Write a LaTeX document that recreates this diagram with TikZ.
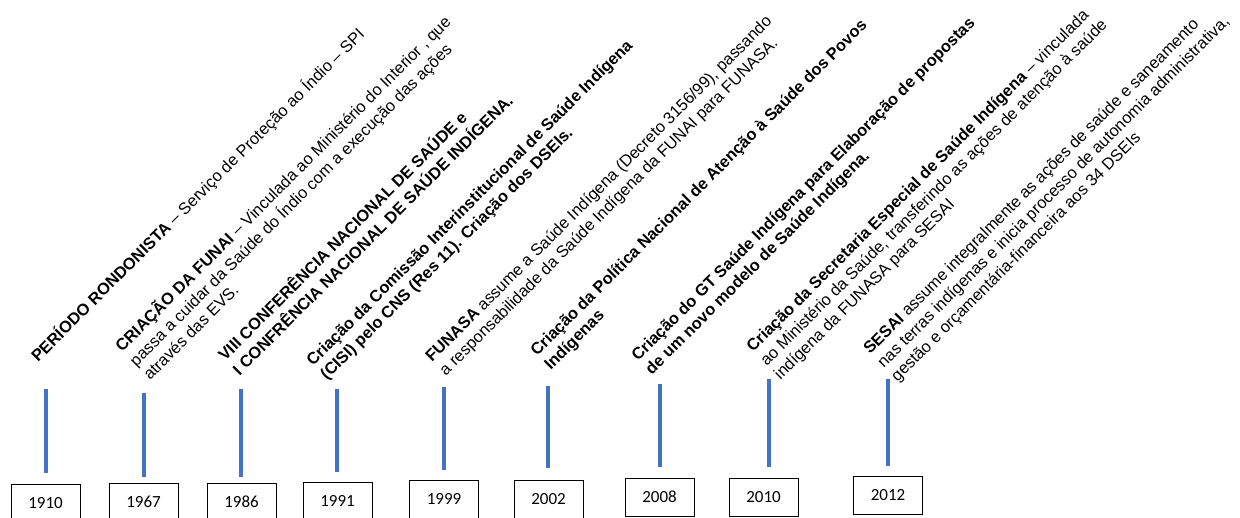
\documentclass[tikz,border=0pt]{standalone}
\usepackage{fontspec}
\setmainfont{Liberation Sans}
\newfontfamily\yearfont{Carlito}
\definecolor{tickblue}{HTML}{4472C4}
\begin{document}
\begin{tikzpicture}[x=1pt,y=-1pt,
  evt/.style={rotate=45, anchor=base west, inner sep=0pt, font=\fontsize{16.4}{19.5}\selectfont},
  yearbox/.style={draw=black, line width=1pt, minimum width=69pt, minimum height=38pt, inner sep=0pt, font=\yearfont\fontsize{17}{20}\selectfont},
  tick/.style={draw=tickblue, line width=4pt}]
\useasboundingbox (0,0) rectangle (1240,518);

% event texts
\node[evt] (e1910) at (38,363) {\begin{tabular}[t]{@{}l@{}}\textbf{PERÍODO RONDONISTA} – Serviço de Proteção ao Índio – SPI\end{tabular}};
\node[evt] (e1967) at (122,353) {\begin{tabular}[t]{@{}l@{}}\textbf{CRIAÇÃO DA FUNAI} – Vinculada ao Ministério do Interior , que\\ passa a cuidar da Saúde do Índio com a execução das ações\\ através das EVS.\end{tabular}};
\node[evt] (e1986) at (225,362) {\begin{tabular}[t]{@{}l@{}}\textbf{VIII CONFERÊNCIA NACIONAL DE SAÚDE e}\\ \textbf{I CONFRÊNCIA NACIONAL DE SAÚDE INDÍGENA.}\end{tabular}};
\node[evt] (e1991) at (313,367) {\begin{tabular}[t]{@{}l@{}}\textbf{Criação da Comissão Interinstitucional de Saúde Indígena}\\ \textbf{(CISI) pelo CNS (Res 11). Criação dos DSEIs.}\end{tabular}};
\node[evt] (e1999) at (432,363) {\begin{tabular}[t]{@{}l@{}}\textbf{FUNASA} assume a Saúde Indígena (Decreto 3156/99), passando\\ a responsabilidade da Saúde Indígena da FUNAI para FUNASA.\end{tabular}};
\node[evt] (e2002) at (537,357) {\begin{tabular}[t]{@{}l@{}}\textbf{Criação da Política Nacional de Atenção à Saúde dos Povos}\\ \textbf{Indígenas}\end{tabular}};
\node[evt] (e2008) at (638,362) {\begin{tabular}[t]{@{}l@{}}\textbf{Criação do GT Saúde Indígena para Elaboração de propostas}\\ \textbf{de um novo modelo de Saúde Indígena.}\end{tabular}};
\node[evt] (e2010) at (753,353) {\begin{tabular}[t]{@{}l@{}}\textbf{Criação da Secretaria Especial de Saúde Indígena} – vinculada\\ ao Ministério da Saúde, transferindo as ações de atenção à saúde\\ indígena da FUNASA para SESAI\end{tabular}};
\node[evt] (e2012) at (870,355) {\begin{tabular}[t]{@{}l@{}}\textbf{SESAI} assume integralmente as ações de saúde e saneamento\\ nas terras indígenas e inicia processo de autonomia administrativa,\\ gestão e orçamentária-financeira aos 34 DSEIs\end{tabular}};

% year boxes
\node[yearbox] (y1910) at (45.5,503) {1910};
\node[yearbox] (y1967) at (143.5,502) {1967};
\node[yearbox] (y1986) at (241.5,502) {1986};
\node[yearbox] (y1991) at (337.5,501) {1991};
\node[yearbox] (y1999) at (444,499) {1999};
\node[yearbox] (y2002) at (548.5,499) {2002};
\node[yearbox] (y2008) at (659.5,497) {2008};
\node[yearbox] (y2010) at (763.5,497) {2010};
\node[yearbox] (y2012) at (888,495.5) {2012};

% blue ticks
\coordinate (t1a) at (46,389);  \coordinate (t1b) at (46,473);
\coordinate (t2a) at (144,393); \coordinate (t2b) at (144,477);
\coordinate (t3a) at (241,389); \coordinate (t3b) at (241,477);
\coordinate (t4a) at (337,389); \coordinate (t4b) at (337,472);
\coordinate (t5a) at (444,387); \coordinate (t5b) at (444,470);
\coordinate (t6a) at (548,386); \coordinate (t6b) at (548,468);
\coordinate (t7a) at (660,384); \coordinate (t7b) at (660,467);
\coordinate (t8a) at (769,379); \coordinate (t8b) at (769,467);
\coordinate (t9a) at (888,379); \coordinate (t9b) at (888,466);
\foreach \i in {1,...,9} { \draw[tick] (t\i a) -- (t\i b); }
\end{tikzpicture}
\end{document}
